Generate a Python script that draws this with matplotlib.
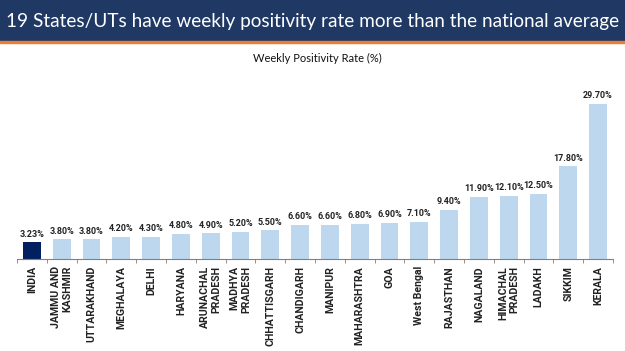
import matplotlib.pyplot as plt
import numpy as np

plt.rcParams['font.family'] = ['Lato', 'DejaVu Sans']

states = ['INDIA', 'JAMMU AND\nKASHMIR', 'UTTARAKHAND', 'MEGHALAYA', 'DELHI',
          'HARYANA', 'ARUNACHAL\nPRADESH', 'MADHYA\nPRADESH', 'CHHATTISGARH',
          'CHANDIGARH', 'MANIPUR', 'MAHARASHTRA', 'GOA', 'West Bengal',
          'RAJASTHAN', 'NAGALAND', 'HIMACHAL\nPRADESH', 'LADAKH', 'SIKKIM',
          'KERALA']
rates = [3.23, 3.80, 3.80, 4.20, 4.30, 4.80, 4.90, 5.20, 5.50, 6.60,
         6.60, 6.80, 6.90, 7.10, 9.40, 11.90, 12.10, 12.50, 17.80, 29.70]
value_labels = ['3.23%', '3.80%', '3.80%', '4.20%', '4.30%', '4.80%', '4.90%',
                '5.20%', '5.50%', '6.60%', '6.60%', '6.80%', '6.90%', '7.10%',
                '9.40%', '11.90%', '12.10%', '12.50%', '17.80%', '29.70%']

label_font = ['Roboto', 'DejaVu Sans']

fig = plt.figure(figsize=(6.25, 3.51), dpi=100)

# header band
fig.patches.append(plt.Rectangle((0, 1 - 40/351), 1, 40/351, transform=fig.transFigure,
                                 color='#1F3864', zorder=0))
fig.patches.append(plt.Rectangle((0, 1 - 43/351), 1, 2/351, transform=fig.transFigure,
                                 color='#ED7D31', zorder=0))
fig.text(0.5, 1 - 21/351, '19 States/UTs have weekly positivity rate more than the national average',
         color='white', fontsize=13.7, ha='center', va='center')
fig.text(0.508, 1 - 58/351, 'Weekly Positivity Rate (%)', fontsize=8, ha='center', va='center',
         color='#111111')

ax = fig.add_axes([17/625, 1 - 259/351, 596/625, 170/351])
x = np.arange(len(states))
colors = ['#002060'] + ['#BDD7EE'] * (len(states) - 1)
ax.bar(x, rates, width=0.6, color=colors)
for xi, r, lab in zip(x, rates, value_labels):
    ax.text(xi, r + 0.7, lab, ha='center', va='bottom', fontsize=6.5,
            fontweight='bold', color='#222222', family=label_font)

ax.set_xlim(-0.5, len(states) - 0.5)
ax.set_ylim(0, 32.6)
for s in ['top', 'right', 'left']:
    ax.spines[s].set_visible(False)
ax.spines['bottom'].set_color('#808080')
ax.set_yticks([])
ax.set_xticks(x)
ax.set_xticklabels(states, rotation=90, fontsize=7.6, fontweight='bold',
                   color='#222222', multialignment='right', family=label_font,
                   linespacing=1.2)
ax.tick_params(axis='x', length=0, pad=5)
ax.set_xticks(np.arange(len(states) + 1) - 0.5, minor=True)
ax.tick_params(axis='x', which='minor', length=3, color='#808080')

fig.savefig('out.png', dpi=100)
